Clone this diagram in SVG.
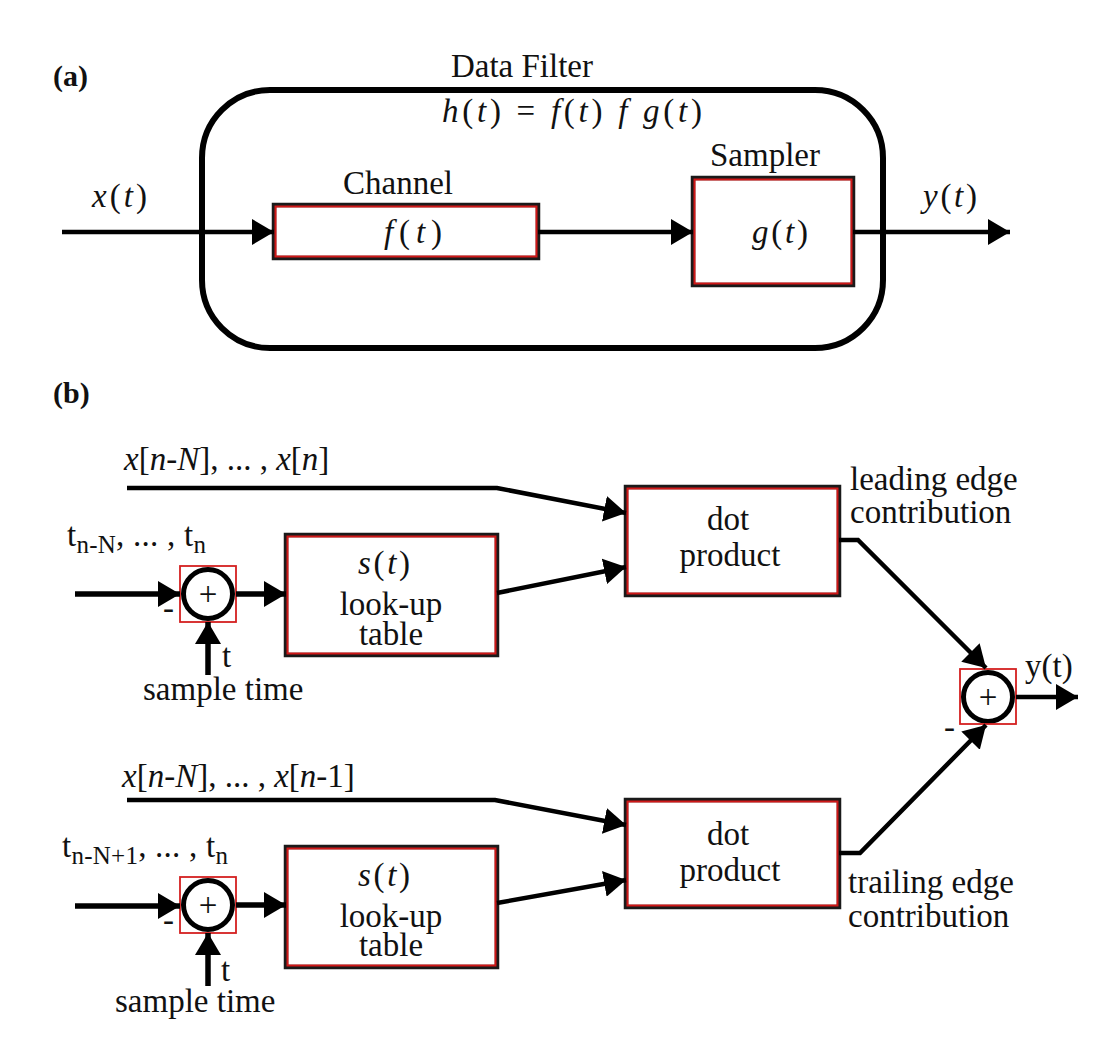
<svg xmlns="http://www.w3.org/2000/svg" width="1120" height="1063" viewBox="0 0 1120 1063">
<style>
text{font-family:"Liberation Serif","Times New Roman",serif;font-size:33px;fill:#111}
.m{font-style:italic}
.b{font-weight:bold;font-size:30px}
.sub{font-size:25px}
.box{fill:#fff;stroke:#1a1a1a;stroke-width:4.5}
.red{fill:none;stroke:#d01818;stroke-width:2}
.sq{fill:none;stroke:#d42020;stroke-width:1.8}
.sum{fill:#fff;stroke:#000;stroke-width:5}
.c{fill:none;stroke:#000;stroke-width:4.5;stroke-linejoin:miter}
.c5{fill:none;stroke:#000;stroke-width:5.5}
</style>
<defs>
<marker id="ah" markerUnits="userSpaceOnUse" markerWidth="22" markerHeight="26" refX="22" refY="13" orient="auto">
<path d="M0,0 L22,13 L0,26 z" fill="#000"/>
</marker>
</defs>
<rect width="1120" height="1063" fill="#fff"/>

<text class="b" x="53" y="86">(a)</text>
<text class="b" x="53" y="403">(b)</text>

<g id="datafilter">
<rect x="202" y="90" width="681" height="258" rx="68" ry="68" fill="none" stroke="#000" stroke-width="6"/>
<text x="522" y="77" text-anchor="middle">Data Filter</text>
<text x="442" y="122" textLength="260" lengthAdjust="spacing"><tspan class="m">h</tspan>(<tspan class="m">t</tspan>) = <tspan class="m">f</tspan>(<tspan class="m">t</tspan>) <tspan class="m">f</tspan> <tspan class="m">g</tspan>(<tspan class="m">t</tspan>)</text>
</g>

<g id="channel">
<rect class="box" x="274" y="205" width="264" height="53"/>
<rect class="red" x="275.5" y="206.5" width="261" height="50"/>
<text x="398" y="194" text-anchor="middle">Channel</text>
<text x="384" y="243" textLength="58" lengthAdjust="spacing"><tspan class="m">f</tspan>(<tspan class="m">t</tspan>)</text>
</g>

<g id="sampler">
<rect class="box" x="693" y="178" width="160" height="107"/>
<rect class="red" x="694.5" y="179.5" width="157" height="104"/>
<text x="765" y="166" text-anchor="middle">Sampler</text>
<text x="752" y="243" textLength="56" lengthAdjust="spacing"><tspan class="m">g</tspan>(<tspan class="m">t</tspan>)</text>
</g>

<g id="labels-a">
<text x="92" y="207" textLength="55" lengthAdjust="spacing"><tspan class="m">x</tspan>(<tspan class="m">t</tspan>)</text>
<text x="923" y="207" textLength="54" lengthAdjust="spacing"><tspan class="m">y</tspan>(<tspan class="m">t</tspan>)</text>
</g>

<g id="sum1">
<circle class="sum" cx="208" cy="594" r="24.5"/>
<rect class="sq" x="180" y="566" width="56" height="56"/>
<text x="208" y="605" text-anchor="middle" font-size="30">+</text>
</g>
<g id="lut1">
<rect class="box" x="286" y="535" width="211" height="120"/>
<rect class="red" x="287.5" y="536.5" width="208" height="117"/>
<text x="358" y="574" textLength="52" lengthAdjust="spacing"><tspan class="m">s</tspan>(<tspan class="m">t</tspan>)</text>
<text x="391" y="615" text-anchor="middle">look-up</text>
<text x="391" y="645" text-anchor="middle">table</text>
</g>
<g id="dot1">
<rect class="box" x="626" y="487" width="213" height="108"/>
<rect class="red" x="627.5" y="488.5" width="210" height="105"/>
<text x="728" y="530" text-anchor="middle">dot</text>
<text x="730" y="566" text-anchor="middle">product</text>
</g>

<g id="sum3">
<circle class="sum" cx="988" cy="697" r="24.5"/>
<rect class="sq" x="960" y="669" width="56" height="55"/>
<text x="988" y="708" text-anchor="middle" font-size="30">+</text>
</g>

<g id="sum2">
<circle class="sum" cx="208" cy="905" r="24.5"/>
<rect class="sq" x="180" y="877" width="56" height="56"/>
<text x="208" y="916" text-anchor="middle" font-size="30">+</text>
</g>
<g id="lut2">
<rect class="box" x="286" y="847" width="211" height="120"/>
<rect class="red" x="287.5" y="848.5" width="208" height="117"/>
<text x="358" y="886" textLength="52" lengthAdjust="spacing"><tspan class="m">s</tspan>(<tspan class="m">t</tspan>)</text>
<text x="391" y="927" text-anchor="middle">look-up</text>
<text x="391" y="956" text-anchor="middle">table</text>
</g>
<g id="dot2">
<rect class="box" x="626" y="800" width="213" height="107"/>
<rect class="red" x="627.5" y="801.5" width="210" height="104"/>
<text x="728" y="845" text-anchor="middle">dot</text>
<text x="730" y="881" text-anchor="middle">product</text>
</g>

<g id="labels-b">
<text x="124" y="470"><tspan class="m">x</tspan>[<tspan class="m">n</tspan>-<tspan class="m">N</tspan>], ... , <tspan class="m">x</tspan>[<tspan class="m">n</tspan>]</text>
<text x="67" y="546" textLength="139" lengthAdjust="spacing">t<tspan class="sub" dy="7">n-N</tspan><tspan dy="-7">, ... , t</tspan><tspan class="sub" dy="7">n</tspan></text>
<text x="163" y="619">-</text>
<text x="222" y="667">t</text>
<text x="143" y="700">sample time</text>
<text x="850" y="490">leading edge</text>
<text x="850" y="523">contribution</text>
<text x="1025" y="677">y(t)</text>
<text x="944" y="738">-</text>

<text x="122" y="787"><tspan class="m">x</tspan>[<tspan class="m">n</tspan>-<tspan class="m">N</tspan>], ... , <tspan class="m">x</tspan>[<tspan class="m">n</tspan>-1]</text>
<text x="62" y="857" textLength="166" lengthAdjust="spacing">t<tspan class="sub" dy="7">n-N+1</tspan><tspan dy="-7">, ... , t</tspan><tspan class="sub" dy="7">n</tspan></text>
<text x="163" y="931">-</text>
<text x="221" y="981">t</text>
<text x="115" y="1012">sample time</text>
<text x="848" y="893">trailing edge</text>
<text x="848" y="927">contribution</text>
</g>

<g id="connectors">
<path class="c" d="M62,232 H274" marker-end="url(#ah)"/>
<path class="c" d="M538,232 H693" marker-end="url(#ah)"/>
<path class="c" d="M853,232 H1010" marker-end="url(#ah)"/>

<path class="c" d="M127,488 H497 L626,513" marker-end="url(#ah)"/>
<path class="c5" d="M75,594 H180" marker-end="url(#ah)"/>
<path class="c5" d="M236,594 H286" marker-end="url(#ah)"/>
<path class="c5" d="M208,675 V622" marker-end="url(#ah)"/>
<path class="c" d="M497,593 L626,567" marker-end="url(#ah)"/>
<path class="c" d="M839,540 H858 L986,668" marker-end="url(#ah)"/>
<path class="c" d="M1016,697 H1078" marker-end="url(#ah)"/>

<path class="c" d="M127,800 H495 L626,825" marker-end="url(#ah)"/>
<path class="c5" d="M75,906 H180" marker-end="url(#ah)"/>
<path class="c5" d="M236,905 H286" marker-end="url(#ah)"/>
<path class="c5" d="M208,986 V933" marker-end="url(#ah)"/>
<path class="c" d="M497,903 L626,880" marker-end="url(#ah)"/>
<path class="c" d="M839,853 H860 L986,725" marker-end="url(#ah)"/>
</g>
</svg>
